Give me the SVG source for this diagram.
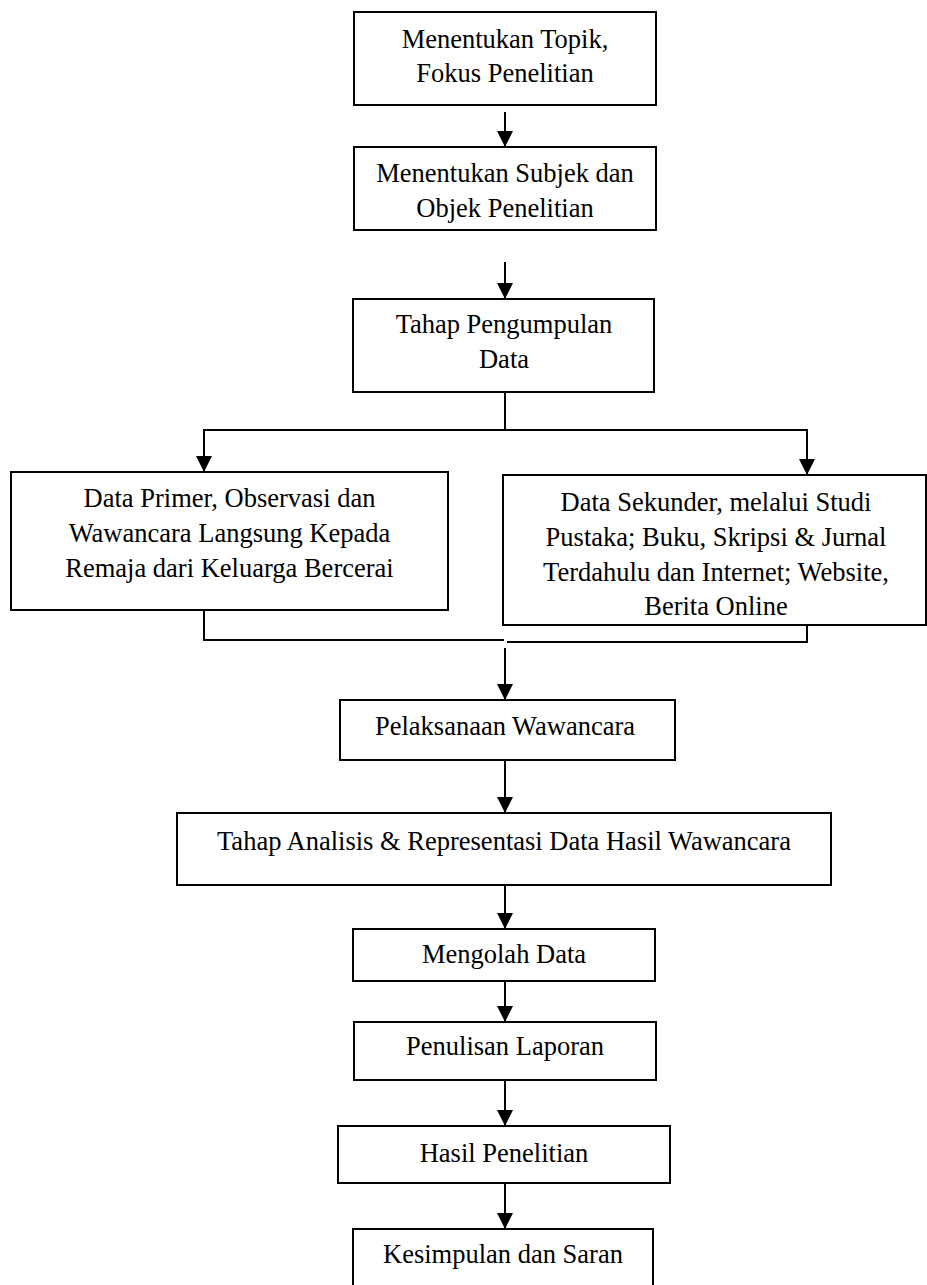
<svg xmlns="http://www.w3.org/2000/svg" width="927" height="1285" viewBox="0 0 927 1285">
<style>
.box{fill:#fff;stroke:#000;stroke-width:2}
.t{font-family:"Liberation Serif","Times New Roman",serif;font-size:26.5px;fill:#000;text-anchor:middle}
.c{fill:none;stroke:#000;stroke-width:2}
.a{fill:none;stroke:#000;stroke-width:2;marker-end:url(#ah)}
</style>
<defs>
<marker id="ah" viewBox="0 0 16 16" refX="16" refY="8" markerWidth="16" markerHeight="16" markerUnits="userSpaceOnUse" orient="auto">
<path d="M0,0 L16,8 L0,16 z" fill="#000"/>
</marker>
</defs>
<rect width="927" height="1285" fill="#fff"/>
<g id="connectors">
<line class="a" x1="505" y1="112" x2="505" y2="147"/>
<line class="a" x1="505" y1="262" x2="505" y2="299"/>
<polyline class="c" points="505,392 505,430"/>
<polyline class="a" points="505,430 204,430 204,472"/>
<polyline class="a" points="505,430 807,430 807,475"/>
<polyline class="c" points="204,610 204,640 504,640"/>
<polyline class="c" points="807,625 807,642 507,642"/>
<line class="a" x1="505" y1="648" x2="505" y2="700"/>
<line class="a" x1="505" y1="760" x2="505" y2="813"/>
<line class="a" x1="505" y1="885" x2="505" y2="929"/>
<line class="a" x1="505" y1="977" x2="505" y2="1022"/>
<line class="a" x1="505" y1="1077" x2="505" y2="1126"/>
<line class="a" x1="505" y1="1183" x2="505" y2="1229"/>
</g>
<g id="n1"><rect class="box" x="354" y="12" width="302" height="93"/>
<text class="t" x="505" y="48">Menentukan Topik,</text><text class="t" x="505" y="82">Fokus Penelitian</text></g>
<g id="n2"><rect class="box" x="354" y="147" width="302" height="83"/>
<text class="t" x="505" y="182">Menentukan Subjek dan</text><text class="t" x="505" y="217">Objek Penelitian</text></g>
<g id="n3"><rect class="box" x="353" y="299" width="301" height="93"/>
<text class="t" x="504" y="333">Tahap Pengumpulan</text><text class="t" x="504" y="368">Data</text></g>
<g id="n4"><rect class="box" x="11" y="472" width="437" height="138"/>
<text class="t" x="229.5" y="507">Data Primer, Observasi dan</text><text class="t" x="229.5" y="542">Wawancara Langsung Kepada</text><text class="t" x="229.5" y="577">Remaja dari Keluarga Bercerai</text></g>
<g id="n5"><rect class="box" x="503" y="475" width="423" height="150"/>
<text class="t" x="716" y="511">Data Sekunder, melalui Studi</text><text class="t" x="716" y="546">Pustaka; Buku, Skripsi &amp; Jurnal</text><text class="t" x="716" y="581">Terdahulu dan Internet; Website,</text><text class="t" x="716" y="615">Berita Online</text></g>
<g id="n6"><rect class="box" x="340" y="700" width="335" height="60"/>
<text class="t" x="505" y="735">Pelaksanaan Wawancara</text></g>
<g id="n7"><rect class="box" x="177" y="813" width="654" height="72"/>
<text class="t" x="504" y="850">Tahap Analisis &amp; Representasi Data Hasil Wawancara</text></g>
<g id="n8"><rect class="box" x="353" y="929" width="302" height="52"/>
<text class="t" x="504" y="963">Mengolah Data</text></g>
<g id="n9"><rect class="box" x="354" y="1022" width="302" height="58"/>
<text class="t" x="505" y="1055">Penulisan Laporan</text></g>
<g id="n10"><rect class="box" x="338" y="1126" width="332" height="57"/>
<text class="t" x="504" y="1162">Hasil Penelitian</text></g>
<g id="n11"><rect class="box" x="353" y="1229" width="300" height="70"/>
<text class="t" x="503" y="1263">Kesimpulan dan Saran</text></g>
</svg>
